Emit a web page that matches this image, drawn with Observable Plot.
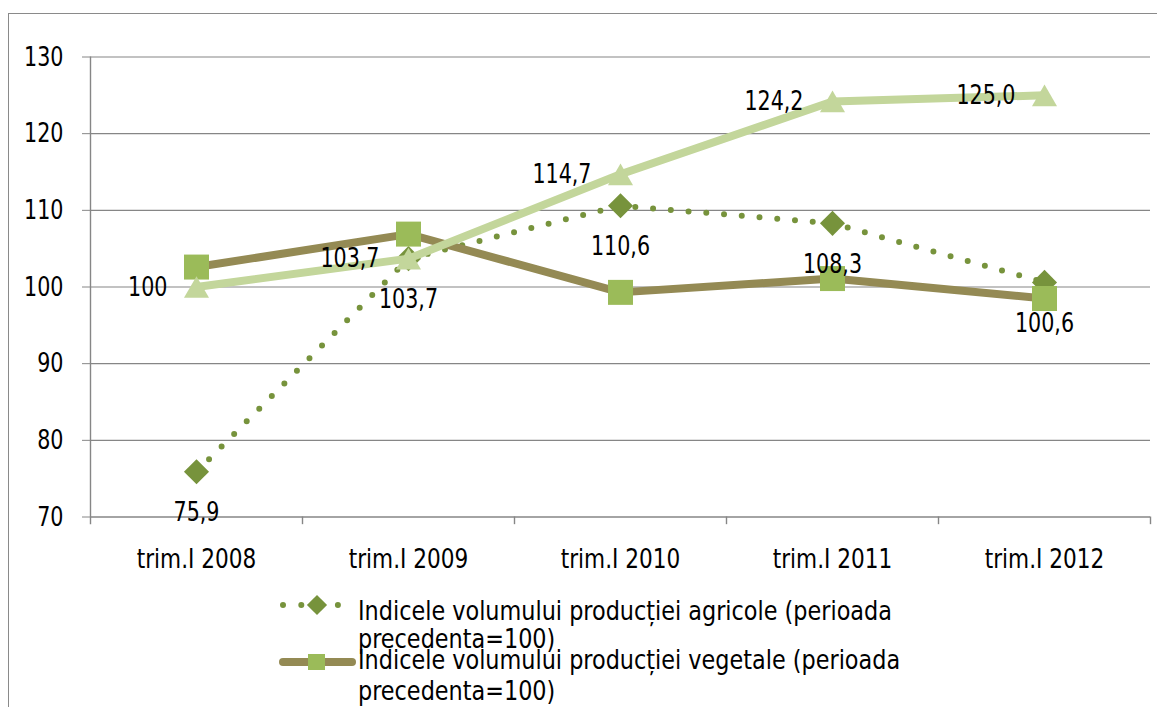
<!DOCTYPE html>
<html><head><meta charset="utf-8">
<script src="https://cdn.jsdelivr.net/npm/d3@7"></script>
<script src="https://cdn.jsdelivr.net/npm/@observablehq/plot@0.6"></script>
<style>
html,body{margin:0;padding:0;background:#fff;width:1157px;height:707px;overflow:hidden;}
body{position:relative;font-family:"Liberation Sans Narrow","DejaVu Sans Condensed","DejaVu Sans",sans-serif;font-stretch:condensed;color:#000;}
#border{position:absolute;left:8px;top:13px;width:1300px;height:900px;border-left:1px solid #8a8a8a;border-top:1px solid #8a8a8a;}
#chart{position:absolute;left:0;top:0;}
#legend{position:absolute;left:0;top:580px;}
</style></head><body>
<div id="border"></div>
<div id="chart"></div>
<svg id="legend" width="1157" height="127"></svg>
<script>
const categories = ["trim.I 2008","trim.I 2009","trim.I 2010","trim.I 2011","trim.I 2012"];
const agricole = [75.9, 103.7, 110.6, 108.3, 100.6];
const agricoleLabels = ["75,9","103,7","110,6","108,3","100,6"];
const vegetale = [102.6, 106.9, 99.3, 101.1, 98.5];
const animale = [100, 103.7, 114.7, 124.2, 125.0];
const animaleLabels = ["100","103,7","114,7","124,2","125,0"];
const yTicks = [70, 80, 90, 100, 110, 120, 130];
const legendLabels = [
  ["Indicele volumului producției agricole (perioada", "precedenta=100)"],
  ["Indicele volumului producției vegetale (perioada", "precedenta=100)"]
];

const cAgr = "#77933C", cVegLine = "#948A54", cVegMark = "#9BBB59", cAnim = "#C3D69B", gray = "#868686";
const W = 1157, H = 580;
const mL = 90, mR = 7, mT = 56.5, mB = H - 516.5;
const half = (W - mL - mR) / categories.length / 2;
const font = '"Liberation Sans Narrow","DejaVu Sans Condensed","DejaVu Sans",sans-serif';
const FS = 27;

const rows = categories.map((c, i) => ({c, a: agricole[i], al: agricoleLabels[i], v: vegetale[i], t: animale[i], tl: animaleLabels[i]}));

const plot = Plot.plot({
  width: W, height: H, marginLeft: mL, marginRight: mR, marginTop: mT, marginBottom: mB,
  style: {fontFamily: font, fontSize: FS + "px", color: "#000", background: "transparent", overflow: "visible", fontStretch: "condensed"},
  x: {type: "point", domain: categories, padding: 0.5, axis: null, label: null},
  y: {domain: [70, 130], axis: null, label: null},
  marks: [
    Plot.ruleY(yTicks.slice(1), {stroke: gray, strokeWidth: 1.2}),
    Plot.ruleY([70], {stroke: gray, strokeWidth: 1.4}),
    Plot.ruleX([categories[0]], {dx: -half, y1: 69.0, y2: 130, stroke: gray, strokeWidth: 1.4}),
    Plot.ruleX(categories, {dx: half, y1: 69.0, y2: 70, stroke: gray, strokeWidth: 1.4}),
    Plot.axisY({ticks: yTicks, tickSize: 8, tickPadding: 19, stroke: gray, fill: "#000", fontSize: FS, tickFormat: d => String(d), label: null}),
    Plot.axisX({tickSize: 0, tickPadding: 32, fill: "#000", fontSize: FS, label: null}),
    Plot.line(rows, {x: "c", y: "a", stroke: cAgr, strokeWidth: 6, strokeDasharray: "0 17.8", strokeLinecap: "round"}),
    Plot.dot(rows, {x: "c", y: "a", symbol: "diamond2", r: 11.3, fill: cAgr}),
    Plot.line(rows, {x: "c", y: "v", stroke: cVegLine, strokeWidth: 8}),
    Plot.dot(rows, {x: "c", y: "v", symbol: "square", r: 14.1, fill: cVegMark}),
    Plot.line(rows, {x: "c", y: "t", stroke: cAnim, strokeWidth: 8}),
    Plot.dot(rows, {x: "c", y: "t", symbol: "triangle", r: 9.3, dy: 3.6, fill: cAnim}),
    Plot.text(rows, {x: "c", y: "t", text: "tl", textAnchor: "end", dx: -29, fontSize: FS, fill: "#000"}),
    Plot.text(rows, {x: "c", y: "a", text: "al", dy: 41, fontSize: FS, fill: "#000"})
  ]
});
document.getElementById("chart").appendChild(plot);

// condensed look: compress glyphs horizontally
function squeeze(nodes, k) {
  nodes.forEach(t => {
    const w = t.getComputedTextLength();
    if (w > 0) { t.setAttribute("textLength", (w * k).toFixed(1)); t.setAttribute("lengthAdjust", "spacingAndGlyphs"); }
  });
}
const xAxisTexts = Array.from(plot.querySelectorAll('g[aria-label="x-axis tick label"] text'));
const otherTexts = Array.from(plot.querySelectorAll("text")).filter(t => !xAxisTexts.includes(t));
squeeze(xAxisTexts, 0.89);
squeeze(otherTexts, 0.85);

// legend
const lg = d3.select("#legend").style("font-family", font).style("font-size", FS + "px");
const baselines = [[40, 68], [89, 120]];
legendLabels.forEach((lines, i) => {
  lines.forEach((s, j) => {
    lg.append("text").attr("x", 358).attr("y", baselines[i][j]).attr("fill", "#000").text(s);
  });
});
squeeze(Array.from(document.querySelectorAll("#legend text")), 0.92);
lg.append("line").attr("x1", 283).attr("x2", 340).attr("y1", 25).attr("y2", 25)
  .attr("stroke", cAgr).attr("stroke-width", 6).attr("stroke-linecap", "round").attr("stroke-dasharray", "0 18.3");
lg.append("path").attr("d", d3.symbol(d3.symbolDiamond2, 260)()).attr("transform", "translate(317,25)").attr("fill", cAgr);
lg.append("line").attr("x1", 283).attr("x2", 352).attr("y1", 82).attr("y2", 82)
  .attr("stroke", cVegLine).attr("stroke-width", 8).attr("stroke-linecap", "round");
lg.append("rect").attr("x", 308).attr("y", 74).attr("width", 17).attr("height", 16).attr("fill", cVegMark);
</script>
</body></html>
